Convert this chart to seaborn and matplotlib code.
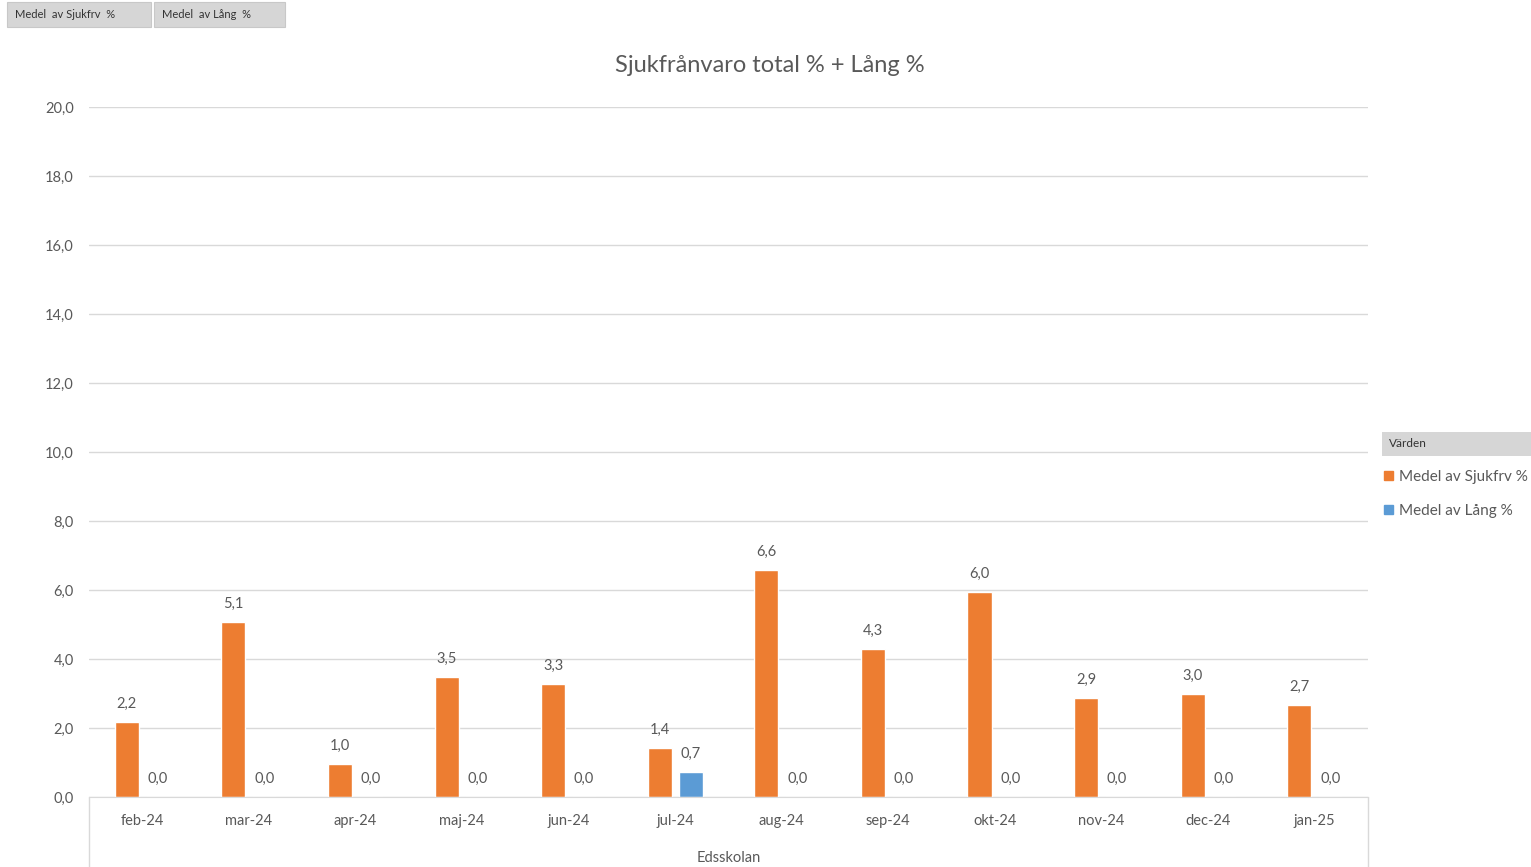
import matplotlib.pyplot as plt
import matplotlib.patches as mpatches
from matplotlib.lines import Line2D
from matplotlib.ticker import FuncFormatter
import numpy as np
import pandas as pd
import seaborn as sns

months = ["feb-24", "mar-24", "apr-24", "maj-24", "jun-24", "jul-24",
          "aug-24", "sep-24", "okt-24", "nov-24", "dec-24", "jan-25"]
sjukfrv = [2.17, 5.07, 0.96, 3.48, 3.28, 1.42, 6.58, 4.29, 5.95, 2.87, 2.99, 2.67]
lang = [0.0, 0.0, 0.0, 0.0, 0.0, 0.72, 0.0, 0.0, 0.0, 0.0, 0.0, 0.0]
series_names = ["Medel av Sjukfrv %", "Medel av Lång %"]
button_labels = ["Medel  av Sjukfrv  %", "Medel  av Lång  %"]

ORANGE = "#ED7D31"
BLUE = "#5B9BD5"
TEXT = "#595959"
GRID = "#D9D9D9"

df = pd.DataFrame({
    "month": months * 2,
    "value": sjukfrv + lang,
    "series": [series_names[0]] * len(months) + [series_names[1]] * len(months),
})

sns.set_style("white")
plt.rcParams["font.family"] = ["Lato", "DejaVu Sans"]

W, H = 1531, 867
fig = plt.figure(figsize=(W / 100, H / 100), dpi=100)
ax = fig.add_axes([89 / W, 1 - 797 / H, (1368 - 89) / W, (797 - 107) / H])

sns.barplot(data=df, x="month", y="value", hue="series",
            palette=[ORANGE, BLUE], width=0.58, gap=0.22,
            ax=ax, legend=False, saturation=1)

for cont in ax.containers:
    vals = [b.get_height() for b in cont]
    ax.bar_label(cont, labels=[f"{v:.1f}".replace(".", ",") for v in vals],
                 padding=8, fontsize=10.5, color=TEXT)

ax.set_ylim(0, 20)
ax.set_yticks(np.arange(0, 21, 2))
ax.yaxis.set_major_formatter(FuncFormatter(lambda v, p: f"{v:.1f}".replace(".", ",")))
ax.set_xlim(-0.5, len(months) - 0.5)
ax.grid(axis="y", color=GRID, linewidth=1)
ax.set_axisbelow(True)
for s in ["left", "right", "top"]:
    ax.spines[s].set_visible(False)
ax.spines["bottom"].set_color(GRID)
ax.tick_params(axis="both", length=0, labelsize=10.5, colors=TEXT)
ax.tick_params(axis="x", pad=12)
ax.tick_params(axis="y", pad=11)
ax.set_xlabel("Edsskolan", fontsize=10.5, color=TEXT, labelpad=17)
ax.set_ylabel("")

# category frame lines under the axis
for xp in [89, 1368]:
    fig.add_artist(Line2D([xp / W, xp / W], [0, 1 - 797 / H],
                          color=GRID, linewidth=1, transform=fig.transFigure))

fig.text(770 / W, 1 - 66 / H, "Sjukfrånvaro total % + Lång %",
         ha="center", va="center", fontsize=17, color=TEXT)

# top field buttons
for (x0, x1), lab in zip([(7, 151), (154, 285)], button_labels):
    fig.add_artist(mpatches.Rectangle((x0 / W, 1 - 27 / H), (x1 - x0) / W, 25 / H,
                                      transform=fig.transFigure, facecolor="#D6D6D6",
                                      edgecolor="#C8C8C8", linewidth=0.8))
    fig.text((x0 + 8) / W, 1 - 14 / H, lab, ha="left", va="center",
             fontsize=8, color="#333333")

# legend header
fig.add_artist(mpatches.Rectangle((1382 / W, 1 - 456 / H), (W - 1382) / W, 24 / H,
                                  transform=fig.transFigure, facecolor="#D6D6D6",
                                  edgecolor="none"))
fig.text(1389 / W, 1 - 444 / H, "Värden", ha="left", va="center",
         fontsize=8.5, color="#333333")

handles = [mpatches.Patch(color=ORANGE), mpatches.Patch(color=BLUE)]
fig.legend(handles, series_names, loc="upper left",
           bbox_to_anchor=(1384 / W, 1 - 470 / H), frameon=False,
           handlelength=0.6, handleheight=0.6, handletextpad=0.35,
           labelspacing=1.3, fontsize=11, labelcolor=TEXT, borderaxespad=0,
           borderpad=0)

fig.savefig("out.png", dpi=100)
